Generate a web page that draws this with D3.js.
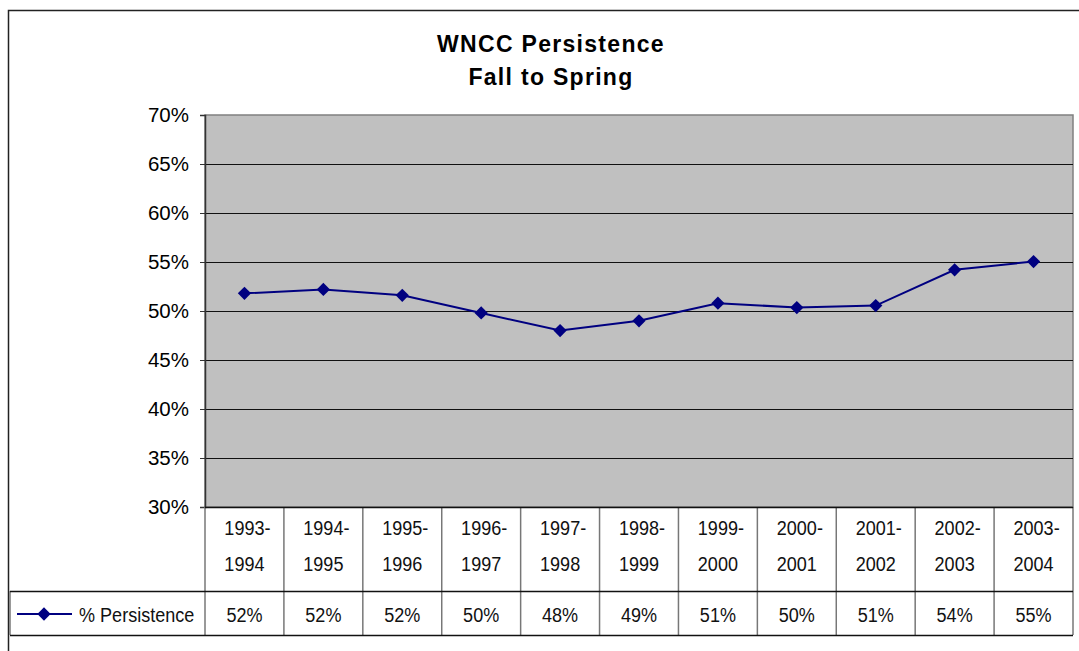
<!DOCTYPE html>
<html>
<head>
<meta charset="utf-8">
<script src="https://cdn.jsdelivr.net/npm/d3@7"></script>
<style>
  body { margin: 0; background: #fff; }
  svg { display: block; }
</style>
</head>
<body>
<script>
// data
var years = ["1993-1994", "1994-1995", "1995-1996", "1996-1997", "1997-1998", "1998-1999",
             "1999-2000", "2000-2001", "2001-2002", "2002-2003", "2003-2004"];
var persistence = [51.8, 52.2, 51.6, 49.8, 48.0, 49.0, 50.8, 50.35, 50.55, 54.2, 55.05];
var yTicks = [30, 35, 40, 45, 50, 55, 60, 65, 70];
var seriesName = "% Persistence";

var W = 1079, H = 651;
var plot = {left: 205, right: 1073, top: 115, bottom: 507};
var tableRow1 = 591, tableRow2 = 635;
var narrow = 0.86; // fake the condensed face used in the table

var svg = d3.select("body").append("svg")
    .attr("width", W)
    .attr("height", H);

// outer chart border
svg.append("rect")
    .attr("x", 8.5).attr("y", 10.5)
    .attr("width", W + 10).attr("height", H + 10)
    .attr("fill", "#fff")
    .attr("stroke", "#222")
    .attr("stroke-width", 1.5);

// title
var title = svg.append("text")
    .attr("text-anchor", "middle")
    .attr("font-family", "Liberation Sans, Arial, sans-serif")
    .attr("font-weight", "bold")
    .attr("font-size", 23)
    .attr("letter-spacing", 1.3)
    .attr("fill", "#000");
title.append("tspan").attr("x", 551).attr("y", 52).text("WNCC Persistence");
title.append("tspan").attr("x", 551).attr("y", 85).text("Fall to Spring");

//scales
var xScale = d3.scaleBand().domain(years).range([plot.left, plot.right]);
var yScale = d3.scaleLinear().domain([30, 70]).range([plot.bottom, plot.top]);

// plot background
svg.append("rect")
    .attr("x", plot.left).attr("y", plot.top)
    .attr("width", plot.right - plot.left)
    .attr("height", plot.bottom - plot.top)
    .attr("fill", "#c0c0c0")
    .attr("stroke", "#808080")
    .attr("stroke-width", 1.5);

// gridlines
svg.append("g").selectAll("line")
    .data(yTicks.filter(function(t) { return t > 30 && t < 70; }))
    .enter().append("line")
    .attr("x1", plot.left).attr("x2", plot.right)
    .attr("y1", function(d) { return Math.round(yScale(d)) + 0.5; })
    .attr("y2", function(d) { return Math.round(yScale(d)) + 0.5; })
    .attr("stroke", "#111")
    .attr("stroke-width", 1);

// y axis
var yAxis = d3.axisLeft(yScale)
    .tickValues(yTicks)
    .tickSize(5)
    .tickPadding(11)
    .tickFormat(function(d) { return d + "%"; });

var gy = svg.append("g")
    .attr("transform", "translate(" + plot.left + ",0)")
    .call(yAxis);
gy.select(".domain").attr("stroke", "#333").attr("stroke-width", 1.5);
gy.selectAll(".tick line").attr("stroke", "#333");
gy.selectAll("text")
    .attr("font-family", "Liberation Sans, Arial, sans-serif")
    .attr("font-size", 20.5)
    .attr("fill", "#000");

// data table
var table = svg.append("g");
// column separators
table.selectAll("line.col")
    .data(years.slice(1).concat(["end"]))
    .enter().append("line")
    .attr("class", "col")
    .attr("x1", function(d, i) { return i < years.length - 1 ? xScale(d) : plot.right; })
    .attr("x2", function(d, i) { return i < years.length - 1 ? xScale(d) : plot.right; })
    .attr("y1", plot.bottom).attr("y2", tableRow2)
    .attr("stroke", "#777").attr("stroke-width", 1.5);
// left edge of table
table.append("line")
    .attr("x1", plot.left).attr("x2", plot.left)
    .attr("y1", plot.bottom).attr("y2", tableRow2)
    .attr("stroke", "#777").attr("stroke-width", 1.5);
table.append("line")
    .attr("x1", 10).attr("x2", 10)
    .attr("y1", tableRow1).attr("y2", tableRow2)
    .attr("stroke", "#777").attr("stroke-width", 1.5);
// row lines
table.append("line")
    .attr("x1", plot.left).attr("x2", plot.right)
    .attr("y1", plot.bottom + 0.5).attr("y2", plot.bottom + 0.5)
    .attr("stroke", "#111").attr("stroke-width", 1.5);
[tableRow1, tableRow2].forEach(function(y) {
    table.append("line")
        .attr("x1", 10).attr("x2", plot.right)
        .attr("y1", y + 0.5).attr("y2", y + 0.5)
        .attr("stroke", "#111").attr("stroke-width", 1.5);
});

function cellText(x, y, str, anchor) {
    table.append("g")
        .attr("transform", "translate(" + x + "," + y + ") scale(" + narrow + ",1)")
        .append("text")
        .attr("text-anchor", anchor || "middle")
        .attr("font-family", "Liberation Sans, Arial, sans-serif")
        .attr("font-size", 21)
        .attr("fill", "#111")
        .text(str);
}

// header labels (two lines)
years.forEach(function(d) {
    var cx = xScale(d) + xScale.bandwidth() / 2;
    cellText(cx + 3, 535, d.split("-")[0] + "-");
    cellText(cx, 571, d.split("-")[1]);
});

// values row
persistence.forEach(function(d, i) {
    cellText(xScale(years[i]) + xScale.bandwidth() / 2, 622, Math.round(d) + "%");
});

// legend key in table
var diamond = d3.symbol().type(d3.symbolSquare).size(88);
table.append("line")
    .attr("x1", 17).attr("x2", 72)
    .attr("y1", 614).attr("y2", 614)
    .attr("stroke", "#000080").attr("stroke-width", 2);
table.append("path")
    .attr("d", diamond)
    .attr("transform", "translate(44,614) rotate(45)")
    .attr("fill", "#000080");
cellText(79, 622, seriesName, "start");

// series line
var line = d3.line()
    .x(function(d, i) { return xScale(years[i]) + xScale.bandwidth() / 2; })
    .y(function(d) { return yScale(d); });

svg.append("path")
    .datum(persistence)
    .attr("d", line)
    .attr("fill", "none")
    .attr("stroke", "#000080")
    .attr("stroke-width", 2);

svg.append("g").selectAll("path")
    .data(persistence)
    .enter().append("path")
    .attr("d", diamond)
    .attr("transform", function(d, i) {
        return "translate(" + (xScale(years[i]) + xScale.bandwidth() / 2) + "," + yScale(d) + ") rotate(45)";
    })
    .attr("fill", "#000080");
</script>
</body>
</html>
